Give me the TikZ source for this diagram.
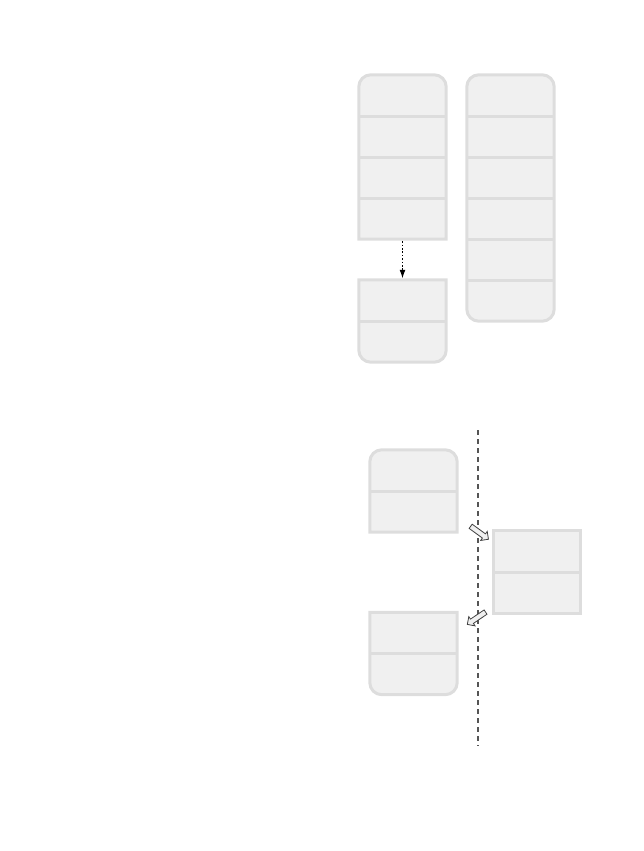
\documentclass[tikz,border=0pt]{standalone}
\usepackage{xcolor}
\usepackage{tikz}
\usetikzlibrary{arrows.meta,shapes.arrows}

\definecolor{cellfill}{HTML}{F0F0F0}
\definecolor{cellline}{HTML}{DDDDDD}
\definecolor{splitline}{HTML}{555555}

\tikzset{
	cell/.style={rectangle, minimum width=87pt, minimum height=41pt, inner sep=0pt},
	frame/.style={draw=cellline, fill=cellfill, line width=3pt},
	divider/.style={draw=cellline, line width=3pt},
	hollow/.style={single arrow, draw=black!75, fill=cellfill, line width=0.8pt,
		minimum height=22pt, minimum width=11pt, inner sep=2.2pt,
		single arrow head extend=3pt}
}

\begin{document}
\begin{tikzpicture}[x=1pt,y=-1pt]
		\useasboundingbox (0,0) rectangle (644,851);

		% Top: left stack, moved part, right stack
		\foreach \i in {1,...,4}
			\node[cell] (l\i) at (402.5,{54.5+41*\i}) {};
		\foreach \i in {1,2}
			\node[cell] (m\i) at (402.5,{259.5+41*\i}) {};
		\foreach \i in {1,...,6}
			\node[cell] (r\i) at (510.5,{54.5+41*\i}) {};

		\draw[frame] (l4.south west) [rounded corners=12pt] -- (l1.north west) -- (l1.north east) [sharp corners] -- (l4.south east) -- cycle;
		\draw[frame] (m1.north west) [rounded corners=12pt] -- (m2.south west) -- (m2.south east) [sharp corners] -- (m1.north east) -- cycle;
		\draw[frame, rounded corners=12pt] (r1.north west) rectangle (r6.south east);

		\foreach \i in {1,...,3}
			\draw[divider] (l\i.south west) -- (l\i.south east);
		\draw[divider] (m1.south west) -- (m1.south east);
		\foreach \i in {1,...,5}
			\draw[divider] (r\i.south west) -- (r\i.south east);

		\draw[line width=1.6pt, dash pattern=on 1.6pt off 1.8pt, -{Latex[length=9pt,width=6pt]}] ([yshift=-2pt]l4.south) -- ([yshift=1pt]m1.north);

		% Bottom: boxes on both sides of the split
		\coordinate (top) at (478,430);
		\coordinate (bottom) at (478,746);
		\draw[splitline, dash pattern=on 5pt off 4pt, line width=1.3pt] (top) -- (bottom);

		\foreach \i in {1,2}
			\node[cell] (a\i) at (413.5,{429.5+41*\i}) {};
		\foreach \i in {1,2}
			\node[cell] (b\i) at (537,{510.5+41*\i}) {};
		\foreach \i in {1,2}
			\node[cell] (c\i) at (413.5,{592+41*\i}) {};

		\draw[frame] (a2.south west) [rounded corners=12pt] -- (a1.north west) -- (a1.north east) [sharp corners] -- (a2.south east) -- cycle;
		\draw[frame] (b1.north west) rectangle (b2.south east);
		\draw[frame] (c1.north west) [rounded corners=12pt] -- (c2.south west) -- (c2.south east) [sharp corners] -- (c1.north east) -- cycle;

		\draw[divider] (a1.south west) -- (a1.south east);
		\draw[divider] (b1.south west) -- (b1.south east);
		\draw[divider] (c1.south west) -- (c1.south east);

		\node[hollow, rotate=-36] (go) at (478.5,532) {};
		\node[hollow, rotate=-146] (back) at (477.5,617.5) {};
	\end{tikzpicture}
\end{document}
